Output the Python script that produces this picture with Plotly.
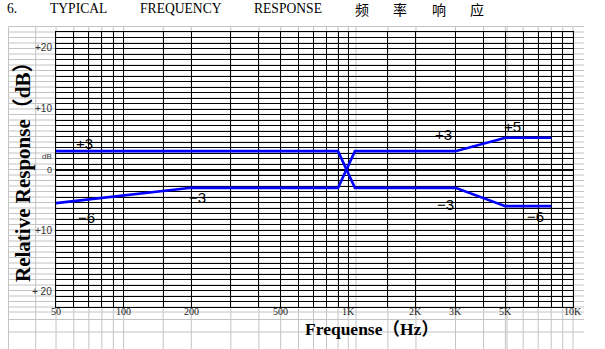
import numpy as np
import plotly.graph_objects as go

# ---------------- data ----------------
freq_a = [50, 900, 1070, 3000, 5000, 8000]
resp_a = [3, 3, -3, -3, -6, -6]
freq_b = [50, 200, 900, 1070, 3000, 5000, 8000]
resp_b = [-5.5, -3, -3, 3, 3, 5.2, 5.2]

grid_freqs = [50, 60, 70, 80, 90, 100, 150, 200, 300, 400, 500, 600, 700, 800, 900,
              1000, 1500, 2000, 3000, 4000, 5000, 6000, 7000, 8000, 9000, 10000]
x_label_freqs = [50, 100, 200, 500, 1000, 2000, 3000, 5000, 10000]
x_label_text = ["50", "100", "200", "500", "1K", "2K", "3K", "5K", "10K"]

y_tick_vals = [20, 10, 0, -10, -20]
y_tick_text = ["+20", "+10", "0", "+10", "+ 20"]

value_label_text = ["+3", "−6", "−3", "+3", "+5", "−3", "−6"]
value_label_freq = [67, 68, 214, 2665, 5400, 2710, 6820]
value_label_db = [4.3, -7.8, -4.6, 5.8, 7.0, -5.65, -7.7]

title_parts = ["6.", "TYPICAL", "FREQUENCY", "RESPONSE", "频", "率", "响", "应"]

# ---------------- layout constants ----------------
W, H = 605, 349
PL, PR, PT, PB = 56, 573, 32, 307
DB_HALF = 22.5
ROW_DB = 0.9
FMIN, FMAX = 50, 10000
GREY = "#c4c4c4"

def fx(f):
    return PL + (PR - PL) * (np.log10(f) - np.log10(FMIN)) / (np.log10(FMAX) - np.log10(FMIN))

# background spreadsheet grid (pixel units, decorative)
bg_cols = [8.5, 35.7] + [float(fx(f)) for f in grid_freqs] + [356, 507]
n_rows = int(round(2 * DB_HALF / ROW_DB))
row_h = (PB - PT) / n_rows
bg_rows = [PT + row_h * k for k in range(-1, n_rows + 1)] + [312, 319.5, 332]
GRID_L, GRID_R, GRID_T = 8.5, 584, PT - row_h

shapes = []
for c in bg_cols:
    shapes.append(dict(type="line", xref="paper", yref="paper", x0=c / W, x1=c / W,
                       y0=1 - GRID_T / H, y1=0, line=dict(color=GREY, width=1), layer="below"))
for r in bg_rows:
    shapes.append(dict(type="line", xref="paper", yref="paper", x0=GRID_L / W, x1=GRID_R / W,
                       y0=1 - r / H, y1=1 - r / H, line=dict(color=GREY, width=1), layer="below"))

fig = go.Figure()
for fr, rs in [(freq_a, resp_a), (freq_b, resp_b)]:
    fig.add_trace(go.Scatter(x=fr, y=rs, mode="lines",
                             line=dict(color="#0000ff", width=2.6), showlegend=False))

annotations = []
for t, f, d in zip(value_label_text, value_label_freq, value_label_db):
    annotations.append(dict(x=np.log10(f), y=d, xref="x", yref="y", text=t, showarrow=False,
                            xanchor="center", yanchor="middle",
                            font=dict(family="Liberation Sans, Arial", size=15, color="black")))

# x tick labels
for f, t in zip(x_label_freqs, x_label_text):
    annotations.append(dict(x=np.log10(f), y=1 - 311.5 / H, xref="x", yref="paper", text=t, showarrow=False,
                            xanchor="center", yanchor="middle",
                            font=dict(family="Liberation Serif, Times New Roman", size=10, color="#222")))
# y tick labels
for v, t in zip(y_tick_vals, y_tick_text):
    annotations.append(dict(x=53.5 / W, y=v, xref="paper", yref="y", text=t, showarrow=False,
                            xanchor="right", yanchor="middle",
                            font=dict(family="Liberation Sans, Arial", size=10 if v else 9, color="#333")))
annotations.append(dict(x=46.7 / W, y=2.1, xref="paper", yref="y", text="dB", showarrow=False,
                        xanchor="center", yanchor="middle",
                        font=dict(family="Liberation Sans, Arial", size=8, color="#333")))

title_x = [11.7, 78.8, 180.8, 288.3, 361.7, 400.3, 438.5, 477]
for t, px in zip(title_parts, title_x):
    cjk = ord(t[0]) > 0x3000
    annotations.append(dict(x=px / W, y=1 - 9 / H, xref="paper", yref="paper", text=t, showarrow=False,
                            xanchor="center", yanchor="middle",
                            font=dict(family="Noto Sans CJK SC" if cjk else "Liberation Serif, Times New Roman",
                                      size=14 if cjk else 13.6, color="black")))

annotations.append(dict(x=23 / W, y=1 - 167 / H, xref="paper", yref="paper", text="Relative Response（dB）",
                        textangle=-90, showarrow=False, xanchor="center", yanchor="middle",
                        font=dict(family="Liberation Serif, Noto Sans CJK SC", size=21, color="black", weight="bold")))
annotations.append(dict(x=372 / W, y=1 - 329 / H, xref="paper", yref="paper", text="Frequense（Hz）",
                        showarrow=False, xanchor="center", yanchor="middle",
                        font=dict(family="Liberation Serif, Noto Sans CJK SC", size=17.5, color="black", weight="bold")))

fig.update_layout(
    width=W, height=H, margin=dict(l=0, r=0, t=0, b=0),
    paper_bgcolor="white", plot_bgcolor="rgba(0,0,0,0)",
    showlegend=False,
    xaxis=dict(domain=[PL / W, PR / W], type="log", range=[np.log10(FMIN), np.log10(FMAX)],
               tickvals=grid_freqs, showticklabels=False, showgrid=True, gridcolor="black", gridwidth=1,
               ticks="", showline=True, mirror=True, linecolor="black", linewidth=1, zeroline=False),
    yaxis=dict(domain=[1 - PB / H, 1 - PT / H], range=[-DB_HALF, DB_HALF], tick0=0, dtick=ROW_DB,
               showgrid=True, gridcolor="black", gridwidth=1, showticklabels=False, ticks="",
               zeroline=True, zerolinecolor="black", zerolinewidth=2,
               showline=True, mirror=True, linecolor="black", linewidth=1),
    shapes=shapes,
    annotations=annotations,
)

fig.write_html("out.html")
